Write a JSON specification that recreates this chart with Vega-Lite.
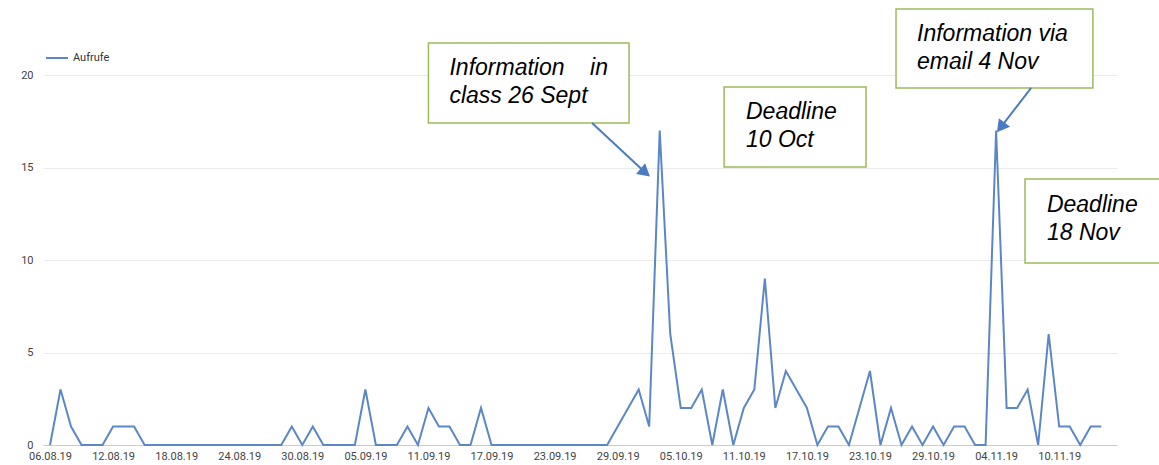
{
  "$schema": "https://vega.github.io/schema/vega-lite/v6.json",
  "autosize": {"type": "none"},
  "width": 1074,
  "height": 370,
  "padding": {"left": 43, "top": 75, "right": 42, "bottom": 20},
  "background": "white",
  "config": {
    "view": {"stroke": null},
    "font": "Roboto"
  },
  "datasets": {
    "series": [
      {"date": "2019-08-06T00:00", "value": 0}, {"date": "2019-08-07T00:00", "value": 3}, {"date": "2019-08-08T00:00", "value": 1},
      {"date": "2019-08-09T00:00", "value": 0}, {"date": "2019-08-10T00:00", "value": 0}, {"date": "2019-08-11T00:00", "value": 0},
      {"date": "2019-08-12T00:00", "value": 1}, {"date": "2019-08-13T00:00", "value": 1}, {"date": "2019-08-14T00:00", "value": 1},
      {"date": "2019-08-15T00:00", "value": 0}, {"date": "2019-08-16T00:00", "value": 0}, {"date": "2019-08-17T00:00", "value": 0},
      {"date": "2019-08-18T00:00", "value": 0}, {"date": "2019-08-19T00:00", "value": 0}, {"date": "2019-08-20T00:00", "value": 0},
      {"date": "2019-08-21T00:00", "value": 0}, {"date": "2019-08-22T00:00", "value": 0}, {"date": "2019-08-23T00:00", "value": 0},
      {"date": "2019-08-24T00:00", "value": 0}, {"date": "2019-08-25T00:00", "value": 0}, {"date": "2019-08-26T00:00", "value": 0},
      {"date": "2019-08-27T00:00", "value": 0}, {"date": "2019-08-28T00:00", "value": 0}, {"date": "2019-08-29T00:00", "value": 1},
      {"date": "2019-08-30T00:00", "value": 0}, {"date": "2019-08-31T00:00", "value": 1}, {"date": "2019-09-01T00:00", "value": 0},
      {"date": "2019-09-02T00:00", "value": 0}, {"date": "2019-09-03T00:00", "value": 0}, {"date": "2019-09-04T00:00", "value": 0},
      {"date": "2019-09-05T00:00", "value": 3}, {"date": "2019-09-06T00:00", "value": 0}, {"date": "2019-09-07T00:00", "value": 0},
      {"date": "2019-09-08T00:00", "value": 0}, {"date": "2019-09-09T00:00", "value": 1}, {"date": "2019-09-10T00:00", "value": 0},
      {"date": "2019-09-11T00:00", "value": 2}, {"date": "2019-09-12T00:00", "value": 1}, {"date": "2019-09-13T00:00", "value": 1},
      {"date": "2019-09-14T00:00", "value": 0}, {"date": "2019-09-15T00:00", "value": 0}, {"date": "2019-09-16T00:00", "value": 2},
      {"date": "2019-09-17T00:00", "value": 0}, {"date": "2019-09-18T00:00", "value": 0}, {"date": "2019-09-19T00:00", "value": 0},
      {"date": "2019-09-20T00:00", "value": 0}, {"date": "2019-09-21T00:00", "value": 0}, {"date": "2019-09-22T00:00", "value": 0},
      {"date": "2019-09-23T00:00", "value": 0}, {"date": "2019-09-24T00:00", "value": 0}, {"date": "2019-09-25T00:00", "value": 0},
      {"date": "2019-09-26T00:00", "value": 0}, {"date": "2019-09-27T00:00", "value": 0}, {"date": "2019-09-28T00:00", "value": 0},
      {"date": "2019-09-29T00:00", "value": 1}, {"date": "2019-09-30T00:00", "value": 2}, {"date": "2019-10-01T00:00", "value": 3},
      {"date": "2019-10-02T00:00", "value": 1}, {"date": "2019-10-03T00:00", "value": 17}, {"date": "2019-10-04T00:00", "value": 6},
      {"date": "2019-10-05T00:00", "value": 2}, {"date": "2019-10-06T00:00", "value": 2}, {"date": "2019-10-07T00:00", "value": 3},
      {"date": "2019-10-08T00:00", "value": 0}, {"date": "2019-10-09T00:00", "value": 3}, {"date": "2019-10-10T00:00", "value": 0},
      {"date": "2019-10-11T00:00", "value": 2}, {"date": "2019-10-12T00:00", "value": 3}, {"date": "2019-10-13T00:00", "value": 9},
      {"date": "2019-10-14T00:00", "value": 2}, {"date": "2019-10-15T00:00", "value": 4}, {"date": "2019-10-16T00:00", "value": 3},
      {"date": "2019-10-17T00:00", "value": 2}, {"date": "2019-10-18T00:00", "value": 0}, {"date": "2019-10-19T00:00", "value": 1},
      {"date": "2019-10-20T00:00", "value": 1}, {"date": "2019-10-21T00:00", "value": 0}, {"date": "2019-10-22T00:00", "value": 2},
      {"date": "2019-10-23T00:00", "value": 4}, {"date": "2019-10-24T00:00", "value": 0}, {"date": "2019-10-25T00:00", "value": 2},
      {"date": "2019-10-26T00:00", "value": 0}, {"date": "2019-10-27T00:00", "value": 1}, {"date": "2019-10-28T00:00", "value": 0},
      {"date": "2019-10-29T00:00", "value": 1}, {"date": "2019-10-30T00:00", "value": 0}, {"date": "2019-10-31T00:00", "value": 1},
      {"date": "2019-11-01T00:00", "value": 1}, {"date": "2019-11-02T00:00", "value": 0}, {"date": "2019-11-03T00:00", "value": 0},
      {"date": "2019-11-04T00:00", "value": 17}, {"date": "2019-11-05T00:00", "value": 2}, {"date": "2019-11-06T00:00", "value": 2},
      {"date": "2019-11-07T00:00", "value": 3}, {"date": "2019-11-08T00:00", "value": 0}, {"date": "2019-11-09T00:00", "value": 6},
      {"date": "2019-11-10T00:00", "value": 1}, {"date": "2019-11-11T00:00", "value": 1}, {"date": "2019-11-12T00:00", "value": 0},
      {"date": "2019-11-13T00:00", "value": 1}, {"date": "2019-11-14T00:00", "value": 1}
    ],
    "boxes": [
      {"x": "2019-09-11T00:00", "x2": "2019-09-30T02:00", "y": 21.73, "y2": 17.41},
      {"x": "2019-10-09T03:00", "x2": "2019-10-22T15:00", "y": 19.35, "y2": 15.03},
      {"x": "2019-10-25T11:30", "x2": "2019-11-13T05:00", "y": 23.57, "y2": 19.3},
      {"x": "2019-11-06T18:00", "x2": "2019-11-20T12:00", "y": 14.38, "y2": 9.84}
    ],
    "notes": [
      {"x": "2019-09-13T00:00", "y": 20.0, "text": ["Information\u00a0\u00a0\u00a0\u00a0in", "class 26 Sept"]},
      {"x": "2019-10-11T05:00", "y": 17.62, "text": ["Deadline", "10 Oct"]},
      {"x": "2019-10-27T11:30", "y": 21.84, "text": ["Information via", "email 4 Nov"]},
      {"x": "2019-11-08T20:00", "y": 12.59, "text": ["Deadline", "18 Nov"]}
    ],
    "arrows": [
      {"name": "a1", "x": "2019-09-26T13:30", "y": 17.41, "x2": "2019-10-01T15:00", "y2": 14.73},
      {"name": "a2", "x": "2019-11-07T08:00", "y": 19.3, "x2": "2019-11-04T10:30", "y2": 17.17}
    ]
  },
  "layer": [
    {
      "data": {"name": "series"},
      "transform": [{"calculate": "'Aufrufe'", "as": "series"}],
      "mark": {"type": "line", "strokeWidth": 2, "interpolate": "linear"},
      "encoding": {
        "x": {
          "field": "date", "type": "temporal",
          "scale": {"domain": [{"year": 2019, "month": 8, "date": 5, "hours": 8}, {"year": 2019, "month": 11, "date": 15, "hours": 12}]},
          "axis": {
            "title": null, "grid": false, "ticks": false,
            "domain": true, "domainColor": "#cccccc", "domainWidth": 1,
            "format": "%d.%m.%y", "labelFontSize": 11, "labelColor": "#444444",
            "labelPadding": 5, "labelFlush": false, "labelOverlap": false,
            "values": [
              {"year": 2019, "month": 8, "date": 6}, {"year": 2019, "month": 8, "date": 12}, {"year": 2019, "month": 8, "date": 18},
              {"year": 2019, "month": 8, "date": 24}, {"year": 2019, "month": 8, "date": 30}, {"year": 2019, "month": 9, "date": 5},
              {"year": 2019, "month": 9, "date": 11}, {"year": 2019, "month": 9, "date": 17}, {"year": 2019, "month": 9, "date": 23},
              {"year": 2019, "month": 9, "date": 29}, {"year": 2019, "month": 10, "date": 5}, {"year": 2019, "month": 10, "date": 11},
              {"year": 2019, "month": 10, "date": 17}, {"year": 2019, "month": 10, "date": 23}, {"year": 2019, "month": 10, "date": 29},
              {"year": 2019, "month": 11, "date": 4}, {"year": 2019, "month": 11, "date": 10}
            ]
          }
        },
        "y": {
          "field": "value", "type": "quantitative",
          "scale": {"domain": [0, 20], "nice": false, "zero": true},
          "axis": {
            "title": null, "values": [0, 5, 10, 15, 20], "grid": true, "gridColor": "#ebebeb",
            "ticks": false, "domain": false, "labelFontSize": 11, "labelColor": "#444444", "labelPadding": 10
          }
        },
        "color": {
          "field": "series", "type": "nominal",
          "scale": {"range": ["#5b87c7"]},
          "legend": {
            "title": null, "orient": "none", "legendX": 2, "legendY": -29,
            "symbolType": "stroke", "symbolSize": 484, "symbolStrokeWidth": 2,
            "labelFontSize": 11, "labelColor": "#333333", "labelOffset": 4
          }
        }
      }
    },
    {
      "data": {"name": "boxes"},
      "mark": {"type": "rect", "fill": "white", "stroke": "#9bbb59", "strokeWidth": 1.5},
      "encoding": {
        "x": {"field": "x", "type": "temporal"},
        "x2": {"field": "x2"},
        "y": {"field": "y", "type": "quantitative"},
        "y2": {"field": "y2"}
      }
    },
    {
      "data": {"name": "notes"},
      "mark": {"type": "text", "align": "left", "baseline": "alphabetic", "font": "Liberation Sans", "fontStyle": "italic", "fontSize": 23, "lineHeight": 28, "color": "black"},
      "encoding": {
        "x": {"field": "x", "type": "temporal"},
        "y": {"field": "y", "type": "quantitative"},
        "text": {"field": "text"}
      }
    },
    {
      "data": {"name": "arrows"},
      "mark": {"type": "rule", "color": "#4a7cc4", "strokeWidth": 2},
      "encoding": {
        "x": {"field": "x", "type": "temporal"},
        "x2": {"field": "x2"},
        "y": {"field": "y", "type": "quantitative"},
        "y2": {"field": "y2"}
      }
    },
    {
      "data": {"name": "arrows"},
      "transform": [{"filter": "datum.name === 'a1'"}],
      "mark": {"type": "point", "shape": "triangle-up", "filled": true, "color": "#4a7cc4", "size": 200, "angle": 129.7, "opacity": 1},
      "encoding": {
        "x": {"field": "x2", "type": "temporal"},
        "y": {"field": "y2", "type": "quantitative"}
      }
    },
    {
      "data": {"name": "arrows"},
      "transform": [{"filter": "datum.name === 'a2'"}],
      "mark": {"type": "point", "shape": "triangle-up", "filled": true, "color": "#4a7cc4", "size": 200, "angle": 217.7, "opacity": 1},
      "encoding": {
        "x": {"field": "x2", "type": "temporal"},
        "y": {"field": "y2", "type": "quantitative"}
      }
    }
  ]
}
